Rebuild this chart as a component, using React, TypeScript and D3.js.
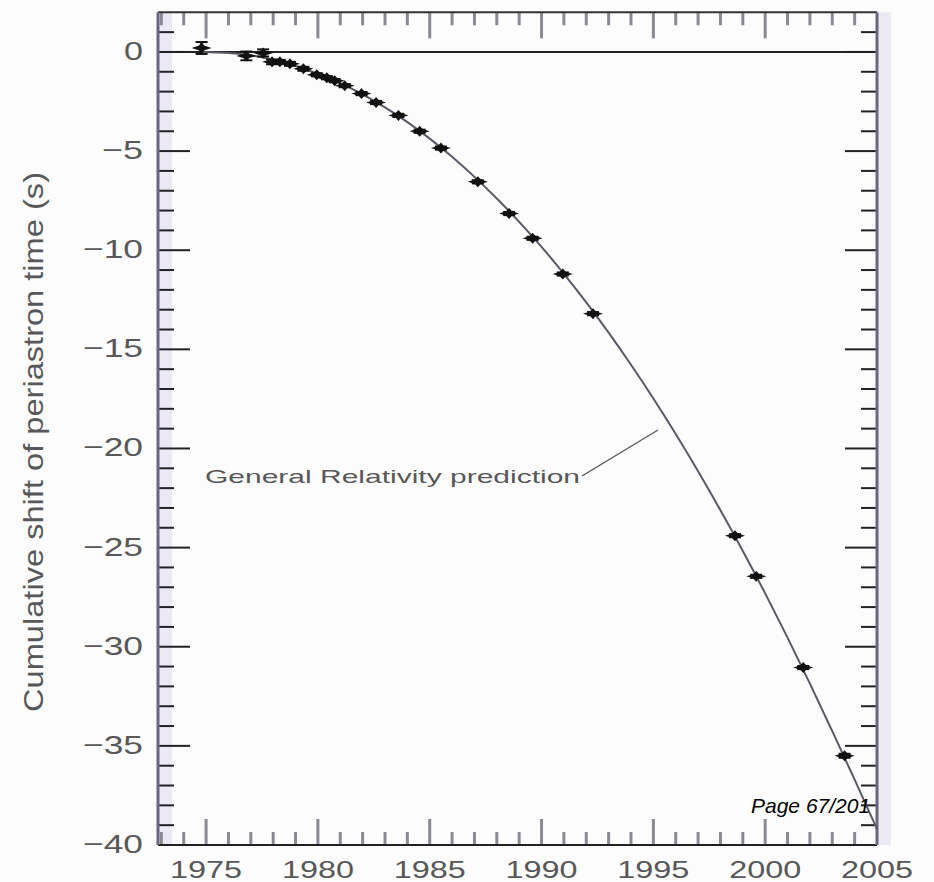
import React from 'react';
import * as d3 from 'd3';

const obsYears = [1974.8, 1976.8, 1977.55, 1977.95, 1978.3, 1978.75, 1979.35, 1979.95, 1980.4, 1980.75, 1981.2, 1981.95, 1982.6, 1983.6, 1984.55, 1985.5, 1987.15, 1988.55, 1989.6, 1990.95, 1992.3, 1998.65, 1999.6, 2001.7, 2003.55];
const obsShift = [0.2, -0.2, -0.05, -0.5, -0.5, -0.6, -0.85, -1.15, -1.3, -1.45, -1.7, -2.1, -2.55, -3.2, -4.0, -4.85, -6.55, -8.15, -9.4, -11.2, -13.2, -24.4, -26.45, -31.05, -35.5];
const obsErr = [0.3, 0.22, 0.18, 0.12, 0.1, 0.1, 0.1, 0.08, 0.08, 0.08, 0.08, 0.08, 0.08, 0.08, 0.08, 0.08, 0.08, 0.08, 0.08, 0.08, 0.08, 0.08, 0.08, 0.08, 0.1];

// General Relativity prediction curve
const grYears = [1974.8, 1976, 1977, 1978, 1979, 1980, 1981, 1982, 1983, 1984, 1985, 1986, 1987, 1988, 1989, 1990, 1991, 1992, 1993, 1994, 1995, 1996, 1997, 1998, 1999, 2000, 2001, 2002, 2003, 2004, 2005];
const grShift = [0, -0.05, -0.17, -0.4, -0.7, -1.1, -1.57, -2.14, -2.8, -3.54, -4.37, -5.29, -6.3, -7.39, -8.57, -9.83, -11.19, -12.63, -14.16, -15.78, -17.48, -19.27, -21.15, -23.12, -25.17, -27.31, -29.54, -31.86, -34.26, -36.7, -39.2];

const xTickLabels = ['1975', '1980', '1985', '1990', '1995', '2000', '2005'];
const yTickValues = [0, -5, -10, -15, -20, -25, -30, -35, -40];

const yTitle = 'Cumulative shift of periastron time (s)';
const annotation = 'General Relativity prediction';
const pageLabel = 'Page 67/201';

const W = 934;
const H = 882;
const L = 158;
const R = 877;
const T = 12.3;
const B = 845;

export default function App() {
  const x = d3.scaleLinear().domain([1972.85, 2005]).range([L, R]);
  const y = d3.scaleLinear().domain([-40, 2]).range([B, T]);

  const line = d3
    .line<number>()
    .x((_, i) => x(grYears[i]))
    .y((d) => y(d))
    .curve(d3.curveMonotoneX);

  const xMinor = d3.range(1973, 2006).filter((v) => x(v) > L + 3 && x(v) < R - 3);
  const yMinor = d3.range(-39, 2).filter((v) => v % 5 !== 0);

  const font = "'Liberation Sans', Arial, sans-serif";
  const gray = '#585858';

  const star = 'M -10 0 L -3 -2.2 L 0 -5.5 L 3 -2.2 L 10 0 L 3 2.2 L 0 5.5 L -3 2.2 Z';

  return (
    <svg width={W} height={H} style={{ position: 'absolute', left: 0, top: 0, background: '#fdfcfd' }}>
      <rect x={0} y={0} width={W} height={H} fill="#fdfcfd" />
      {/* lavender halos on vertical axes */}
      <rect x={L} y={T} width={14} height={B - T} fill="#ece9f3" />
      <rect x={R} y={T} width={14} height={B - T} fill="#ece9f3" />

      {/* x ticks */}
      {xMinor.map((v) => {
        const major = v % 5 === 0;
        const len = major ? 26 : 13;
        return (
          <g key={'xt' + v} stroke="#8a8a94" strokeWidth={3}>
            <line x1={x(v)} x2={x(v)} y1={T} y2={T + len} />
            <line x1={x(v)} x2={x(v)} y1={B} y2={B - len} />
          </g>
        );
      })}
      {/* y ticks */}
      {yMinor.map((v) => (
        <g key={'ym' + v} stroke="#222" strokeWidth={2}>
          <line x1={L} x2={L + 16} y1={y(v)} y2={y(v)} />
          <line x1={R} x2={R - 16} y1={y(v)} y2={y(v)} />
        </g>
      ))}
      {yTickValues.map((v) => (
        <g key={'yM' + v} stroke="#222" strokeWidth={2}>
          <line x1={L} x2={L + 32} y1={y(v)} y2={y(v)} />
          <line x1={R} x2={R - 32} y1={y(v)} y2={y(v)} />
        </g>
      ))}

      {/* zero line */}
      <line x1={L} x2={R} y1={y(0)} y2={y(0)} stroke="#222" strokeWidth={2} />

      {/* frame */}
      <line x1={L} x2={R} y1={T} y2={T} stroke="#333" strokeWidth={2} />
      <line x1={L} x2={R} y1={B} y2={B} stroke="#222" strokeWidth={2} />
      <line x1={L} x2={L} y1={T} y2={B} stroke="#6a6680" strokeWidth={3} />
      <line x1={R} x2={R} y1={T} y2={B} stroke="#6a6680" strokeWidth={3} />

      {/* GR curve */}
      <path d={line(grShift) || ''} fill="none" stroke="#5a5a66" strokeWidth={2} />

      {/* observations */}
      {obsYears.map((yr, i) => {
        const cx = x(yr);
        const cy = y(obsShift[i]);
        const top = y(obsShift[i] + obsErr[i]);
        const bot = y(obsShift[i] - obsErr[i]);
        return (
          <g key={'p' + i}>
            <line x1={cx} x2={cx} y1={top} y2={bot} stroke="#111" strokeWidth={2.5} />
            <line x1={cx - 6} x2={cx + 6} y1={top} y2={top} stroke="#111" strokeWidth={2} />
            <line x1={cx - 6} x2={cx + 6} y1={bot} y2={bot} stroke="#111" strokeWidth={2} />
            <path d={star} transform={`translate(${cx},${cy})`} fill="#111" />
          </g>
        );
      })}

      {/* annotation */}
      <text x={205} y={483} fontFamily={font} fontSize={19} fill={gray} textLength={375} lengthAdjust="spacingAndGlyphs">
        {annotation}
      </text>
      <line x1={582} y1={476} x2={658} y2={430} stroke="#555" strokeWidth={1.3} />

      {/* x tick labels */}
      {xTickLabels.map((lab) => (
        <text
          key={'xl' + lab}
          x={x(+lab) - 36}
          y={878}
          fontFamily={font}
          fontSize={24}
          fill={gray}
          textLength={72}
          lengthAdjust="spacingAndGlyphs"
        >
          {lab}
        </text>
      ))}

      {/* y tick labels */}
      {yTickValues.map((v) => {
        const s = v === 0 ? '0' : '\u2212' + Math.abs(v);
        const len = (v === 0 ? 0 : 22) + String(Math.abs(v)).length * 19;
        return (
          <text
            key={'yl' + v}
            x={143 - len}
            y={y(v) + 8}
            fontFamily={font}
            fontSize={26}
            fill={gray}
            textLength={len}
            lengthAdjust="spacingAndGlyphs"
          >
            {s}
          </text>
        );
      })}

      {/* y title */}
      <text
        transform={`translate(43, 442) rotate(-90)`}
        textAnchor="middle"
        fontFamily={font}
        fontSize={28}
        fill={gray}
        textLength={540}
        lengthAdjust="spacingAndGlyphs"
      >
        {yTitle}
      </text>

      {/* page label */}
      <text x={751} y={813} fontFamily={font} fontStyle="italic" fontSize={21} fill="#000">
        {pageLabel}
      </text>
    </svg>
  );
}
